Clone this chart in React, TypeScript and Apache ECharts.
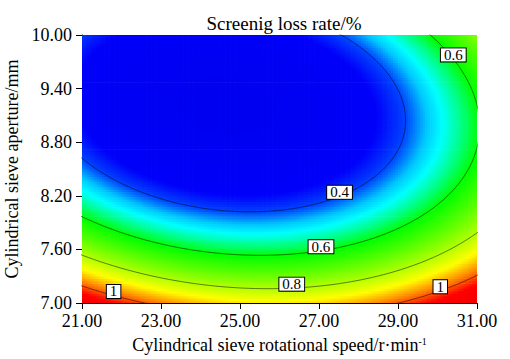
import React, { useEffect, useRef } from "react";
import * as echarts from "echarts";

// Factor ranges of the plot
const speedRange = [21, 31]; // cylindrical sieve rotational speed, r·min-1
const apertureRange = [7, 10]; // cylindrical sieve aperture, mm
const speedTickStep = 2;
const apertureTickStep = 0.6;

// Fitted quadratic response surface of the screening loss rate (%), coded units:
// A = (speed - 26) / 5, B = (aperture - 8.5) / 1.5
// terms: intercept, A, B, AB, A², B²
const lossModel = [0.2794, 0.0989, -0.289, 0.079, 0.2468, 0.33];

// Contour levels and where their labels sit
const contourLevels = [0.4, 0.6, 0.8, 1];
const labelSpeeds = [30.4, 27.52, 27.05, 26.31, 21.8, 30.07];
const labelLevels = [0.6, 0.4, 0.6, 0.8, 1, 1];
const labelBranches = ["upper", "lower", "lower", "lower", "lower", "lower"];

// Colour ramp (loss rate -> colour)
const rampValues = [0.19, 0.34, 0.40, 0.45, 0.49, 0.55, 0.60, 0.88, 0.96, 1.05, 1.13];
const rampColors = [
  [0, 0, 240],
  [0, 0, 250],
  [0, 70, 255],
  [0, 200, 255],
  [0, 255, 255],
  [0, 255, 120],
  [0, 255, 0],
  [255, 255, 0],
  [255, 140, 0],
  [255, 0, 0],
  [245, 0, 0],
];

const FONT = "'Liberation Serif', 'Times New Roman', serif";
const NX = 160;
const NY = 108;

const speedMid = (speedRange[0] + speedRange[1]) / 2;
const speedHalf = (speedRange[1] - speedRange[0]) / 2;
const apMid = (apertureRange[0] + apertureRange[1]) / 2;
const apHalf = (apertureRange[1] - apertureRange[0]) / 2;

function lossAt(speed: number, aperture: number) {
  const a = (speed - speedMid) / speedHalf;
  const b = (aperture - apMid) / apHalf;
  const [c0, c1, c2, c12, c11, c22] = lossModel;
  return c0 + c1 * a + c2 * b + c12 * a * b + c11 * a * a + c22 * b * b;
}

function rampColor(v: number) {
  if (v <= rampValues[0]) return rampColors[0];
  for (let i = 1; i < rampValues.length; i++) {
    if (v <= rampValues[i]) {
      const t = (v - rampValues[i - 1]) / (rampValues[i] - rampValues[i - 1]);
      const c0 = rampColors[i - 1];
      const c1 = rampColors[i];
      return [0, 1, 2].map((k) => Math.round(c0[k] + (c1[k] - c0[k]) * t));
    }
  }
  return rampColors[rampColors.length - 1];
}

// Closed contour of the quadratic surface, traced around its stationary point
function contourPoints(level: number) {
  const [c0, c1, c2, c12, c11, c22] = lossModel;
  const det = 4 * c11 * c22 - c12 * c12;
  const ac = (c12 * c2 - 2 * c22 * c1) / det;
  const bc = (c12 * c1 - 2 * c11 * c2) / det;
  const fmin = c0 + (c1 * ac + c2 * bc) / 2;
  const pts: number[][] = [];
  for (let i = 0; i <= 720; i++) {
    const t = (i / 720) * Math.PI * 2;
    const ca = Math.cos(t);
    const sb = Math.sin(t);
    const q = c11 * ca * ca + c12 * ca * sb + c22 * sb * sb;
    const r = Math.sqrt((level - fmin) / q);
    pts.push([speedMid + (ac + r * ca) * speedHalf, apMid + (bc + r * sb) * apHalf]);
  }
  return pts;
}

// Aperture where a contour crosses a given speed
function apertureOnContour(speed: number, level: number, branch: string) {
  const [c0, c1, c2, c12, c11, c22] = lossModel;
  const a = (speed - speedMid) / speedHalf;
  const qa = c22;
  const qb = c2 + c12 * a;
  const qc = c0 + c1 * a + c11 * a * a - level;
  const s = Math.sqrt(Math.max(0, qb * qb - 4 * qa * qc));
  const b = branch === "upper" ? (-qb + s) / (2 * qa) : (-qb - s) / (2 * qa);
  return apMid + b * apHalf;
}

export default function App() {
  const ref = useRef<HTMLDivElement>(null);

  useEffect(() => {
    if (!ref.current) return;
    const chart = echarts.init(ref.current, null, { renderer: "svg" });

    const dx = (speedRange[1] - speedRange[0]) / NX;
    const dy = (apertureRange[1] - apertureRange[0]) / NY;
    const cells: number[][] = [];
    for (let j = 0; j < NY; j++) {
      const y = apertureRange[0] + (j + 0.5) * dy;
      for (let i = 0; i < NX; i++) {
        const x = speedRange[0] + (i + 0.5) * dx;
        cells.push([x, y, lossAt(x, y)]);
      }
    }

    const vMin = rampValues[0];
    const vMax = rampValues[rampValues.length - 1];
    const steps = 190;
    const mapColors: string[] = [];
    for (let k = 0; k <= steps; k++) {
      const c = rampColor(vMin + ((vMax - vMin) * k) / steps);
      mapColors.push(`rgb(${c[0]},${c[1]},${c[2]})`);
    }

    const contourSeries = contourLevels.map((lv) => ({
      type: "line",
      data: contourPoints(lv),
      showSymbol: false,
      symbol: "none",
      smooth: false,
      clip: true,
      silent: true,
      z: 3,
      lineStyle: { color: "rgba(0,0,0,0.5)", width: 1 },
    }));

    const labelData = labelSpeeds.map((s, i) => ({
      value: [s, apertureOnContour(s, labelLevels[i], labelBranches[i]), labelLevels[i]],
    }));

    chart.setOption({
      animation: false,
      backgroundColor: "#ffffff",
      title: {
        text: "Screenig loss rate/%",
        left: 279,
        top: 9,
        textAlign: "center",
        textStyle: { fontFamily: FONT, fontSize: 19, fontWeight: "normal", color: "#000" },
      },
      grid: { left: 82, right: 33, top: 35, bottom: 56, outerBoundsMode: "none", containLabel: false },
      visualMap: {
        show: false,
        type: "continuous",
        seriesIndex: 0,
        dimension: 2,
        min: vMin,
        max: vMax,
        inRange: { color: mapColors },
      },
      xAxis: {
        type: "value",
        min: speedRange[0],
        max: speedRange[1],
        interval: speedTickStep,
        name: "Cylindrical sieve rotational speed/r·min{sup|-1}",
        nameLocation: "middle",
        nameGap: 33,
        nameTextStyle: {
          fontFamily: FONT,
          fontSize: 18,
          color: "#000",
          rich: { sup: { fontFamily: FONT, fontSize: 10, verticalAlign: "top", color: "#000" } },
        },
        axisLine: { show: true, lineStyle: { color: "#000", width: 1 } },
        axisTick: { show: true, inside: false, length: 6, lineStyle: { color: "#000" } },
        axisLabel: {
          margin: 9,
          fontFamily: FONT,
          fontSize: 18,
          color: "#000",
          formatter: (v: number) => v.toFixed(2),
        },
        splitLine: { show: false },
      },
      yAxis: {
        type: "value",
        min: apertureRange[0],
        max: apertureRange[1],
        interval: apertureTickStep,
        name: "Cylindrical sieve aperture/mm",
        nameLocation: "middle",
        nameGap: 55,
        nameTextStyle: { fontFamily: FONT, fontSize: 18, color: "#000" },
        axisLine: { show: true, lineStyle: { color: "#000", width: 1 } },
        axisTick: { show: true, inside: false, length: 6, lineStyle: { color: "#000" } },
        axisLabel: {
          margin: 10,
          fontFamily: FONT,
          fontSize: 18,
          color: "#000",
          formatter: (v: number) => v.toFixed(2),
        },
        splitLine: { show: false },
      },
      series: [
        {
          type: "custom",
          data: cells,
          encode: { x: 0, y: 1 },
          clip: true,
          silent: true,
          progressive: 0,
          progressiveThreshold: 1e9,
          z: 1,
          renderItem: (params: any, api: any) => {
            const x = api.value(0);
            const y = api.value(1);
            const p0 = api.coord([x - dx / 2, y + dy / 2]);
            const p1 = api.coord([x + dx / 2, y - dy / 2]);
            return {
              type: "rect",
              shape: { x: p0[0], y: p0[1], width: p1[0] - p0[0] + 0.7, height: p1[1] - p0[1] + 0.7 },
              style: { fill: api.visual("color") },
            };
          },
        },
        ...contourSeries,
        {
          type: "scatter",
          data: labelData,
          symbol: "rect",
          symbolSize: 1,
          itemStyle: { color: "rgba(0,0,0,0)" },
          silent: true,
          z: 5,
          label: {
            show: true,
            position: "inside",
            offset: [0, -4],
            formatter: (p: any) => String(p.value[2]),
            fontFamily: FONT,
            fontSize: 15,
            color: "#000",
            opacity: 1,
            backgroundColor: "#fff",
            borderColor: "#000",
            borderWidth: 1,
            padding: [0, 3, 0, 3],
            lineHeight: 13,
          },
        },
      ],
    });

    return () => chart.dispose();
  }, []);

  return (
    <div
      ref={ref}
      style={{ position: "fixed", left: 0, top: 0, width: 510, height: 359, background: "#fff" }}
    />
  );
}
